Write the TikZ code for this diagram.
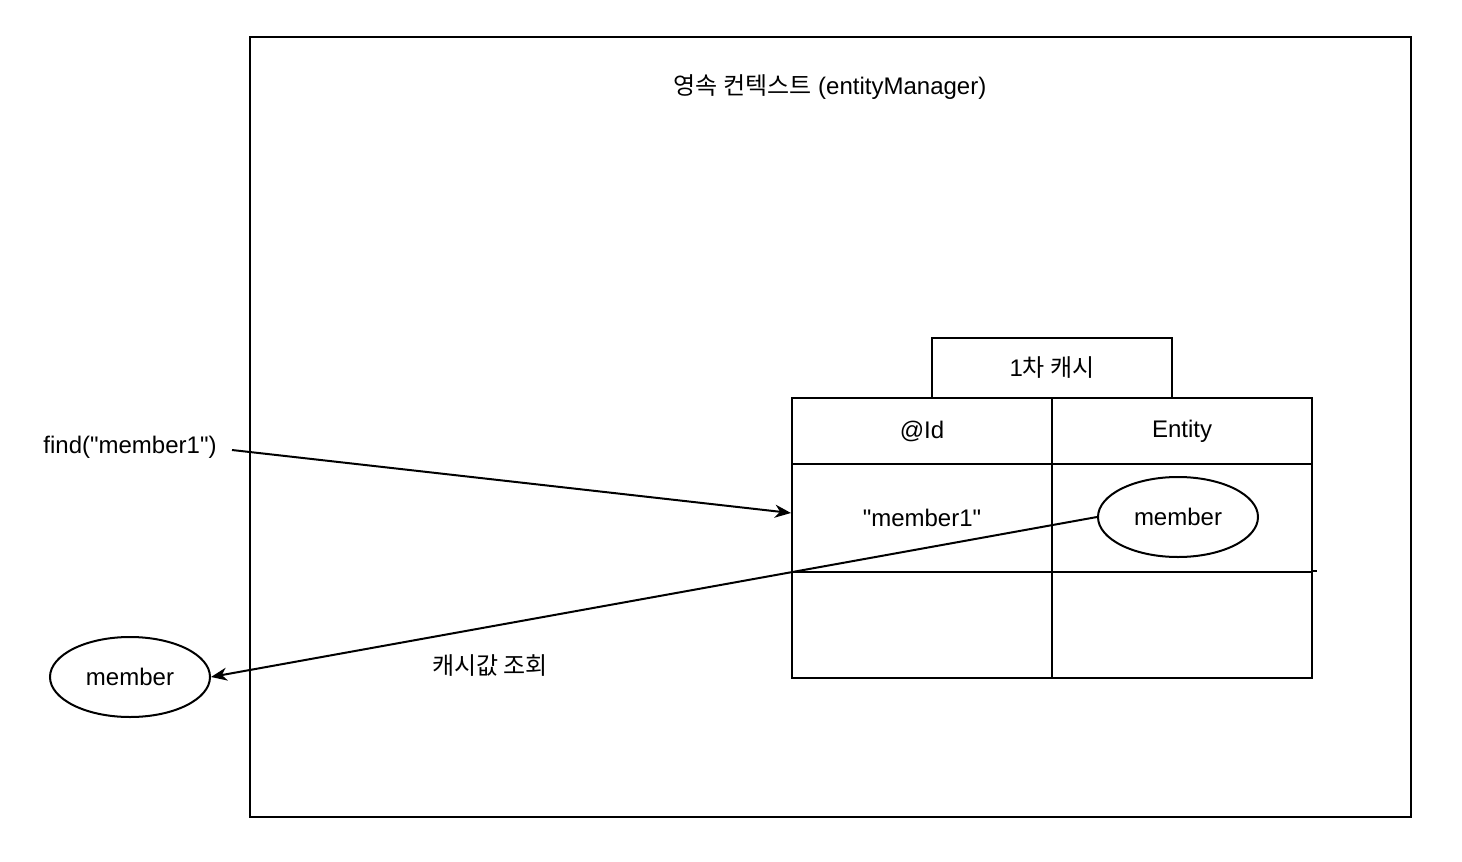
\documentclass[tikz,border=0pt]{standalone}
\usepackage{fontspec}
\setmainfont{Liberation Sans}[Ligatures=TeXOff]
\newfontfamily\kr{Noto Sans CJK KR}
\usetikzlibrary{arrows.meta,shapes.geometric}

\begin{document}
\begin{tikzpicture}[x=1pt, y=-1pt, line width=2pt, font=\fontsize{24}{28}\selectfont,
    >={Stealth[length=16pt,width=13pt,inset=5pt]},
    cell/.style={draw, inner sep=0pt, minimum width=260pt, anchor=north west},
    oval/.style={draw, ellipse, inner sep=0pt, minimum width=160pt, minimum height=80pt}]
            \useasboundingbox (0,0) rectangle (1462,862);
            \draw (250,37) rectangle (1411,817);
            \node (title) at (830,87) {{\kr 영속 컨텍스트} (entityManager)};
            \node[cell, minimum width=240pt, minimum height=60pt] (tab) at (931,337) {1{\kr 차 캐시}};
            \node[cell, minimum height=66pt] (idhead) at (791,397) {@Id};
            \node[cell, minimum height=66pt] (enthead) at (1051,397) {Entity};
            \node[cell, minimum height=108pt] (idval) at (791,463) {"member1"};
            \node[cell, minimum height=108pt] (entval) at (1051,463) {};
            \node[cell, minimum height=106pt] (idnone) at (791,571) {};
            \node[cell, minimum height=106pt] (entnone) at (1051,571) {};
            \draw (entnone.north east) -- ++(4,0);
            \node[oval] (cached) at (1178,517) {member};
            \node[oval] (found) at (130,677) {member};
            \node (call) at (130,447) {find("member1")};
            \node (lookup) at (490,666) {{\kr 캐시값 조회}};
            \coordinate (start) at (232,450);
            \draw[->] (start) -- ([yshift=5pt]idval.west);
            \draw[->] (cached.west) -- (found.east);
        \end{tikzpicture}
\end{document}
